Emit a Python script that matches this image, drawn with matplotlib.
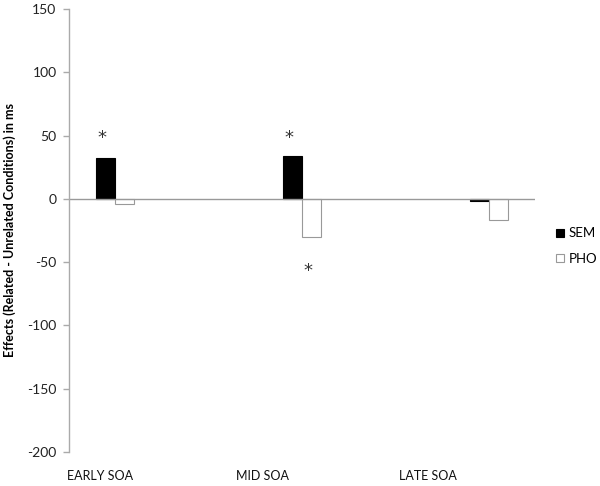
import matplotlib
matplotlib.use("Agg")
import matplotlib.pyplot as plt
import numpy as np

plt.rcParams['font.family'] = ['Lato', 'DejaVu Sans']

categories = ["EARLY SOA", "MID SOA", "LATE SOA"]
sem = [32, 34, -2]
pho = [-4, -30, -17]
# significance stars: (category index, series, y value)
stars_x = [0, 1, 1]
stars_series = ["SEM", "SEM", "PHO"]
stars_y = [50, 50, -55]
yticks = [150, 100, 50, 0, -50, -100, -150, -200]

fig = plt.figure(figsize=(6, 4.86), dpi=100)
ax = fig.add_axes([0.115, 0.07, 0.777, 0.9115])

x = np.arange(len(categories))
w = 0.1
ax.bar(x - w/2, sem, w, color='black', edgecolor='black', linewidth=0.8, label='SEM')
ax.bar(x + w/2, pho, w, color='white', edgecolor='#999999', linewidth=0.8, label='PHO')

for xi, s, yv in zip(stars_x, stars_series, stars_y):
    off = -w/2 if s == "SEM" else w/2
    ax.text(xi + off - 0.02, yv - 2, "*", ha='center', va='center', fontsize=13,
            color='#333333', family='DejaVu Sans')

ax.axhline(0, color='#999999', linewidth=1)
ax.set_xlim(-0.246, 2.246)
ax.set_ylim(-200, 150)
ax.set_yticks(yticks)
ax.set_yticklabels([str(t) for t in yticks], fontsize=10, color='#222222')
ax.tick_params(axis='y', length=4, color='#aaaaaa', width=1, direction='out', pad=5)

ax.set_xticks([-0.08, 0.79, 1.67])
ax.set_xticklabels(categories, fontsize=9, color='#111111')
ax.tick_params(axis='x', length=0, pad=13)

for sp in ['top', 'right', 'bottom']:
    ax.spines[sp].set_visible(False)
ax.spines['left'].set_color('#aaaaaa')
ax.spines['left'].set_linewidth(1)

ax.set_ylabel("Effects (Related - Unrelated Conditions) in ms", fontsize=9, fontweight='bold', labelpad=8)

leg = ax.legend(loc='center left', bbox_to_anchor=(1.02, 0.465), frameon=False, fontsize=9.5,
                handlelength=0.6, handleheight=0.6, handletextpad=0.35, labelspacing=1.0)

fig.savefig("out.png", dpi=100)
